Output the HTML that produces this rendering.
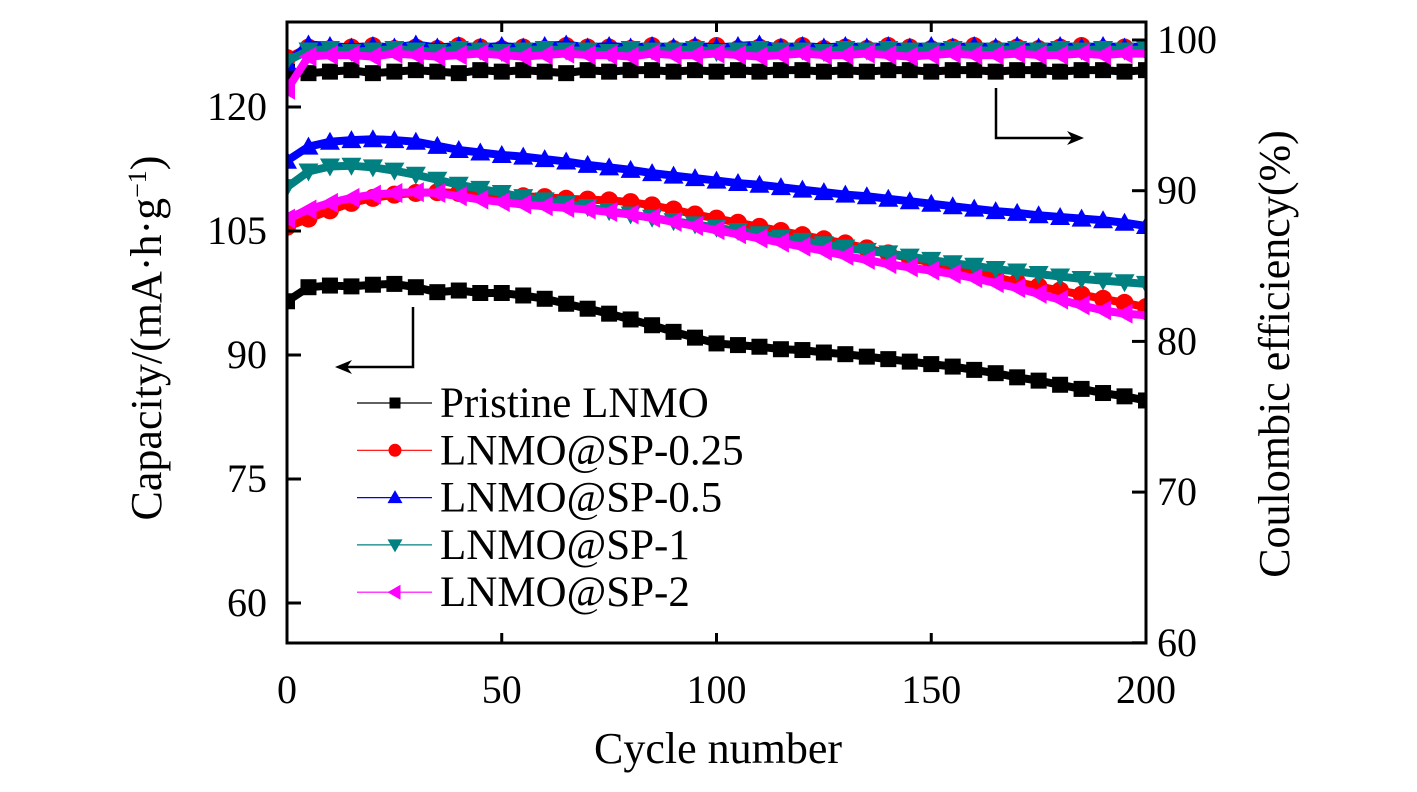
<!DOCTYPE html>
<html><head><meta charset="utf-8"><style>
body{margin:0;background:#fff;width:1417px;height:787px;overflow:hidden}
svg{font-family:"Liberation Serif",serif}
</style></head><body>
<svg id="c" width="1417" height="787"></svg>
<script>
const cycles=[];for(let i=0;i<=200;i+=5)cycles.push(i);
const capBlack=[96.5,98.2,98.4,98.3,98.5,98.6,98.2,97.6,97.8,97.5,97.5,97.2,96.8,96.2,95.6,95.0,94.3,93.6,92.8,92.1,91.4,91.2,91.0,90.7,90.6,90.3,90.1,89.8,89.5,89.2,88.9,88.6,88.2,87.8,87.3,86.9,86.4,85.9,85.4,85.0,84.5];
const capRed=[105.5,106.5,107.5,108.4,109.0,109.4,109.6,109.7,109.6,109.5,109.4,109.2,109.1,108.9,108.8,108.7,108.5,108.1,107.6,107.0,106.5,106.0,105.5,105.0,104.5,104.0,103.5,102.9,102.3,101.7,101.2,100.6,100.0,99.4,98.8,98.3,97.8,97.3,96.8,96.3,95.8];
const capBlue=[113.5,115.2,115.8,116.0,116.1,116.0,115.8,115.3,114.8,114.5,114.2,114.0,113.7,113.4,113.0,112.7,112.4,112.0,111.7,111.4,111.1,110.8,110.6,110.3,110.0,109.7,109.4,109.2,108.9,108.6,108.3,108.0,107.7,107.4,107.2,106.9,106.7,106.5,106.3,106.0,105.6];
const capTeal=[110.3,112.2,112.8,112.9,112.7,112.3,111.8,111.2,110.6,110.1,109.6,109.1,108.7,108.3,107.9,107.4,107.0,106.6,106.2,105.8,105.4,105.0,104.6,104.2,103.8,103.4,103.0,102.6,102.3,101.9,101.5,101.1,100.8,100.4,100.1,99.8,99.5,99.2,99.0,98.8,98.6];
const capMag=[106.5,107.6,108.4,109.0,109.4,109.6,109.7,109.6,109.2,108.8,108.5,108.2,108.0,107.8,107.6,107.3,107.0,106.6,106.1,105.6,105.1,104.6,104.1,103.6,103.1,102.6,102.0,101.5,101.0,100.6,100.2,99.8,99.3,98.7,98.1,97.4,96.7,96.0,95.4,95.0,94.8];
const ceBlack=[97.9,97.8,97.9,98.0,97.8,97.9,98.0,97.9,97.8,98.0,97.9,98.0,97.9,97.8,98.0,97.9,98.0,98.0,97.9,98.0,97.9,98.0,97.9,98.0,98.0,97.9,98.0,97.9,98.0,98.0,97.9,98.0,98.0,97.9,98.0,98.0,97.9,98.0,98.0,97.9,98.0];
const ceRed=[98.8,99.5,99.4,99.5,99.6,99.4,99.5,99.4,99.6,99.5,99.4,99.5,99.4,99.6,99.5,99.5,99.4,99.6,99.4,99.5,99.6,99.4,99.5,99.5,99.6,99.4,99.5,99.4,99.6,99.5,99.4,99.5,99.6,99.4,99.5,99.4,99.5,99.6,99.4,99.5,99.5];
const ceBlue=[98.5,99.7,99.6,99.5,99.6,99.5,99.7,99.5,99.6,99.5,99.6,99.5,99.6,99.7,99.5,99.6,99.5,99.6,99.5,99.6,99.5,99.6,99.7,99.5,99.6,99.5,99.6,99.5,99.6,99.5,99.6,99.5,99.6,99.5,99.6,99.5,99.6,99.5,99.6,99.5,99.6];
const ceTeal=[98.6,99.3,99.4,99.2,99.3,99.4,99.3,99.2,99.4,99.3,99.2,99.3,99.4,99.3,99.3,99.2,99.4,99.3,99.3,99.4,99.2,99.3,99.4,99.3,99.3,99.2,99.4,99.3,99.4,99.3,99.3,99.4,99.3,99.3,99.4,99.3,99.4,99.3,99.4,99.3,99.4];
const ceMag=[96.7,98.9,99.0,99.0,98.9,99.1,99.0,98.9,99.0,99.1,99.0,98.9,99.0,99.1,99.0,99.0,98.9,99.1,99.0,99.0,99.1,99.0,98.9,99.0,99.1,99.0,99.0,99.1,99.0,98.9,99.0,99.1,99.0,99.0,99.1,99.0,99.0,99.1,99.0,99.1,99.1];
const xTicks=[0,50,100,150,200];
const yLTicks=[60,75,90,105,120];
const yRTicks=[60,70,80,90,100];

const NS='http://www.w3.org/2000/svg';
const svg=document.getElementById('c');
const X0=287,X1=1146,Y0=22,Y1=643;
const xS=v=>X0+(v/200)*(X1-X0);
const yL=v=>107+(120-v)*(124/15);
const yR=v=>40+(100-v)*15.07;
function mk(tag,attrs,parent){const e=document.createElementNS(NS,tag);for(const k in attrs)e.setAttribute(k,attrs[k]);(parent||svg).appendChild(e);return e;}
function marker(g,shape,x,y,col,s){
  let e;
  if(shape==='sq')e=mk('rect',{x:x-s+1,y:y-s+1,width:2*s-2,height:2*s-2,fill:col},g);
  else if(shape==='ci')e=mk('circle',{cx:x,cy:y,r:s,fill:col},g);
  else if(shape==='up')e=mk('polygon',{points:`${x},${y-s-1} ${x-s-1},${y+s-1} ${x+s+1},${y+s-1}`,fill:col},g);
  else if(shape==='dn')e=mk('polygon',{points:`${x},${y+s+1} ${x-s-1},${y-s+1} ${x+s+1},${y-s+1}`,fill:col},g);
  else e=mk('polygon',{points:`${x-s-1},${y} ${x+s-1},${y-s-1} ${x+s-1},${y+s+1}`,fill:col},g);
  return e;
}
const series=[
 {n:'pristine',cap:capBlack,ce:ceBlack,c:'#000',s:'sq',label:'Pristine LNMO'},
 {n:'sp-0.25',cap:capRed,ce:ceRed,c:'#ff0000',s:'ci',label:'LNMO@SP-0.25'},
 {n:'sp-0.5',cap:capBlue,ce:ceBlue,c:'#0000ff',s:'up',label:'LNMO@SP-0.5'},
 {n:'sp-1',cap:capTeal,ce:ceTeal,c:'#008080',s:'dn',label:'LNMO@SP-1'},
 {n:'sp-2',cap:capMag,ce:ceMag,c:'#ff00ff',s:'lt',label:'LNMO@SP-2'}
];
const clip=mk('clipPath',{id:'pc'});mk('rect',{x:X0,y:Y0,width:X1-X0,height:Y1-Y0},clip);
const plot=mk('g',{'clip-path':'url(#pc)'});


series.forEach(sr=>{
  const g=mk('g',{},plot);
  
  
  [[sr.cap,yL,'capacity'],[sr.ce,yR,'efficiency']].forEach(([arr,ys,kind])=>{
    const pts=arr.map((v,i)=>xS(cycles[i])+','+ys(v)).join(' ');
    const l=mk('polyline',{points:pts,fill:'none',stroke:sr.c,'stroke-width':8,'stroke-linejoin':'round'},g);
    
    
    arr.forEach((v,i)=>{
      const m=marker(g,sr.s,xS(cycles[i]),ys(v),sr.c,9);
      
      
    });
  });
});
const fr=mk('rect',{x:X0,y:Y0,width:X1-X0,height:Y1-Y0,fill:'none',stroke:'#000','stroke-width':3});


xTicks.forEach(t=>{
  const x=xS(t);
  mk('line',{x1:x,y1:Y1,x2:x,y2:Y1-10,stroke:'#000','stroke-width':3});
  mk('line',{x1:x,y1:Y0,x2:x,y2:Y0+10,stroke:'#000','stroke-width':3});
  const tx=mk('text',{x:x,y:703,'font-size':40,'text-anchor':'middle'});tx.textContent=t;
  
  
});
yLTicks.forEach(t=>{
  const y=yL(t);
  mk('line',{x1:X0,y1:y,x2:X0+14,y2:y,stroke:'#000','stroke-width':3});
  const tx=mk('text',{x:267,y:y+13,'font-size':40,'text-anchor':'end'});tx.textContent=t;
  
  
});
yRTicks.forEach(t=>{
  const y=yR(t);
  mk('line',{x1:X1,y1:y,x2:X1-14,y2:y,stroke:'#000','stroke-width':3});
  const tx=mk('text',{x:1157,y:y+13,'font-size':40}); tx.textContent=t;
  
  
});
const xt=mk('text',{x:718,y:763,'font-size':44,'text-anchor':'middle'});xt.textContent='Cycle number';


const yt=mk('text',{x:0,y:0,'font-size':44,'text-anchor':'middle',transform:'translate(161,338) rotate(-90)'});
yt.innerHTML='Capacity/(mA·h·g<tspan dy="-15" font-size="26">−1</tspan><tspan dy="15">)</tspan>';


const yt2=mk('text',{x:0,y:0,'font-size':44,'text-anchor':'middle',transform:'translate(1289,354) rotate(-90)'});
yt2.textContent='Coulombic efficiency(%)';


const a1=mk('path',{d:'M413,307 V367 H346',fill:'none',stroke:'#000','stroke-width':2.5});


mk('polygon',{points:'335,367 352,360 347,367 352,374',fill:'#000'});
const a2=mk('path',{d:'M996,88 V138 H1072',fill:'none',stroke:'#000','stroke-width':2.5});


mk('polygon',{points:'1084,138 1067,131 1072,138 1067,145',fill:'#000'});
const lg=mk('g',{});


series.forEach((sr,i)=>{
  const y=403+i*47.3;
  const e=mk('g',{},lg);
  
  
  mk('line',{x1:357,y1:y,x2:432,y2:y,stroke:sr.c,'stroke-width':1.2},e);
  marker(e,sr.s,395,y,sr.c,6.5);
  const t=mk('text',{x:440,y:y+14,'font-size':43},e);t.textContent=sr.label;
});
</script>
</body></html>
